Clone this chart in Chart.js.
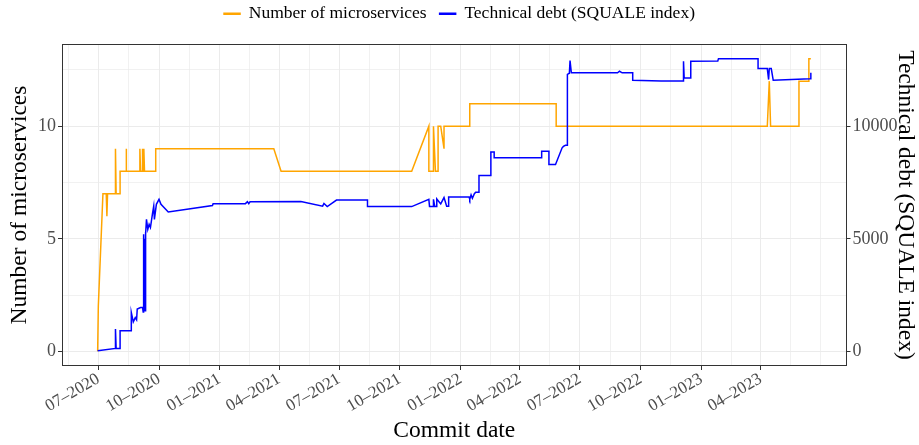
<!DOCTYPE html>
<html>
<head>
<meta charset="utf-8">
<script src="https://cdn.jsdelivr.net/npm/chart.js@4/dist/chart.umd.min.js"></script>
<style>
  body { margin: 0; background: #fff; }
</style>
</head>
<body>
<canvas id="chart" width="919" height="445"></canvas>
<script>
// Number of microservices, one entry per commit
const msDates = [
  '2020-06-30', '2020-07-01', '2020-07-08', '2020-07-13', '2020-07-14', '2020-07-15',
  '2020-07-27', '2020-07-27', '2020-07-28', '2020-08-03', '2020-08-03', '2020-08-12',
  '2020-08-12', '2020-08-13', '2020-09-02', '2020-09-02', '2020-09-03', '2020-09-06',
  '2020-09-06', '2020-09-07', '2020-09-08', '2020-09-09', '2020-09-26', '2020-09-26',
  '2021-03-24', '2021-04-04', '2021-10-19', '2021-11-14', '2021-11-14', '2021-11-21',
  '2021-11-21', '2021-11-24', '2021-11-28', '2021-11-28', '2021-12-02', '2021-12-07',
  '2021-12-07', '2022-01-15', '2022-01-15', '2022-05-26', '2022-05-26', '2023-04-11',
  '2023-04-14', '2023-04-16', '2023-05-29', '2023-05-29', '2023-06-13', '2023-06-13',
  '2023-06-16'
];
const msCounts = [
  0, 2, 7, 7, 6, 7,
  7, 9, 7, 7, 8, 8,
  9, 8, 8, 9, 8, 8,
  9, 8, 9, 8, 8, 9,
  9, 8, 8, 10, 8, 8,
  10, 8, 8, 10, 10, 9,
  10, 10, 11, 11, 10, 10,
  12, 10, 10, 12, 12, 13,
  13
];

// Technical debt (SQUALE index), one entry per commit
const tdDates = [
  '2020-06-30', '2020-07-27', '2020-07-27', '2020-07-28', '2020-08-03', '2020-08-03',
  '2020-08-20', '2020-08-20', '2020-08-23', '2020-08-26', '2020-08-28', '2020-08-29',
  '2020-09-03', '2020-09-06', '2020-09-07', '2020-09-07', '2020-09-08', '2020-09-08',
  '2020-09-09', '2020-09-09', '2020-09-10', '2020-09-10', '2020-09-11', '2020-09-11',
  '2020-09-12', '2020-09-14', '2020-09-16', '2020-09-18', '2020-09-21', '2020-09-23',
  '2020-09-24', '2020-09-27', '2020-10-01', '2020-10-04', '2020-10-15', '2020-12-21',
  '2020-12-22', '2021-02-09', '2021-02-12', '2021-02-14', '2021-02-16', '2021-05-04',
  '2021-06-06', '2021-06-08', '2021-06-13', '2021-06-27', '2021-08-13', '2021-08-13',
  '2021-10-19', '2021-11-14', '2021-11-15', '2021-11-21', '2021-11-21', '2021-11-23',
  '2021-11-26', '2021-11-26', '2021-12-02', '2021-12-07', '2021-12-11', '2021-12-14',
  '2021-12-14', '2022-01-14', '2022-01-15', '2022-01-17', '2022-01-19', '2022-01-22',
  '2022-01-24', '2022-01-29', '2022-01-29', '2022-02-16', '2022-02-16', '2022-02-21',
  '2022-02-21', '2022-05-04', '2022-05-04', '2022-05-15', '2022-05-15', '2022-05-25',
  '2022-06-04', '2022-06-06', '2022-06-09', '2022-06-12', '2022-06-12', '2022-06-15',
  '2022-06-16', '2022-06-18', '2022-08-27', '2022-08-30', '2022-09-03', '2022-09-19',
  '2022-09-19', '2022-11-01', '2022-12-05', '2022-12-05', '2022-12-06', '2022-12-16',
  '2022-12-16', '2023-01-26', '2023-01-27', '2023-03-28', '2023-03-28', '2023-04-11',
  '2023-04-13', '2023-04-14', '2023-04-17', '2023-04-20', '2023-06-15', '2023-06-16'
];
const tdIndex = [
  30, 130, 990, 130, 130, 920,
  920, 1730, 1310, 1500, 1400, 1880,
  1950, 1950, 1750, 5100, 1750, 5200,
  1800, 5000, 1800, 5300, 1900, 5200,
  5860, 5420, 5640, 5500, 6090, 6450,
  5860, 6530, 6750, 6530, 6190, 6480,
  6560, 6560, 6650, 6560, 6640, 6650,
  6450, 6570, 6430, 6720, 6720, 6430,
  6430, 6750, 6430, 6430, 6750, 6430,
  6430, 6770, 6550, 6830, 6450, 6450,
  6850, 6850, 6750, 6950, 6800, 7000,
  7070, 7070, 7810, 7810, 8850, 8850,
  8600, 8600, 8890, 8890, 8300, 8300,
  9040, 9100, 9150, 9150, 12300, 12350,
  12910, 12370, 12370, 12440, 12370, 12370,
  12040, 12010, 12010, 12880, 12140, 12140,
  12880, 12900, 13000, 13000, 12560, 12560,
  12070, 12560, 12560, 12040, 12110, 12370
];

// axis breaks
const xTickDates = [
  '2020-07-01', '2020-10-01', '2021-01-01', '2021-04-01', '2021-07-01', '2021-10-01',
  '2022-01-01', '2022-04-01', '2022-07-01', '2022-10-01', '2023-01-01', '2023-04-01'
];
const xTickLabels = [
  '07–2020', '10–2020', '01–2021', '04–2021', '07–2021', '10–2021',
  '01–2022', '04–2022', '07–2022', '10–2022', '01–2023', '04–2023'
];
const leftTicks = [0, 5, 10];
const rightTicks = [0, 5000, 10000];
const secScale = 1000; // right axis = left axis * 1000

const orange = '#FFA500';
const blue = '#0000FF';
const tickGrey = '#4d4d4d';
const gridGrey = '#ebebeb';

Chart.defaults.font.family = 'Liberation Serif';

function toPoints(dates, values, scale) {
  return dates.map((d, i) => ({x: Date.parse(d), y: values[i] / scale}));
}

function addMonths(ms, n) {
  let d = new Date(ms);
  return Date.UTC(d.getUTCFullYear(), d.getUTCMonth() + n, 1);
}

// x range with ggplot style 5% expansion
let allX = msDates.concat(tdDates).map(d => Date.parse(d));
let xLo = Math.min(...allX), xHi = Math.max(...allX);
let xMin = xLo - (xHi - xLo) * 0.05;
let xMax = xHi + (xHi - xLo) * 0.05;

let allY = msCounts.concat(tdIndex.map(v => v / secScale));
let yLo = Math.min(...allY), yHi = Math.max(...allY);
let yMin = yLo - (yHi - yLo) * 0.05;
let yMax = yHi + (yHi - yLo) * 0.05;

// major + minor grid positions
let majorX = xTickDates.map(d => Date.parse(d));
let qs = [addMonths(majorX[0], -3)].concat(majorX, [addMonths(majorX[majorX.length - 1], 3), addMonths(majorX[majorX.length - 1], 6)]);
let gridX = [];
for (let i = 0; i < qs.length; i++) {
  gridX.push(qs[i]);
  if (i < qs.length - 1) gridX.push((qs[i] + qs[i + 1]) / 2);
}
gridX = gridX.filter(v => v >= xMin && v <= xMax);

let stepY = leftTicks[1] - leftTicks[0];
let gridY = [];
for (let v = leftTicks[0] - stepY; v <= yMax; v += stepY / 2) {
  if (v >= yMin) gridY.push(v);
}

const isMajorX = v => majorX.includes(v);
const isMajorY = v => leftTicks.includes(v);

// force the legend band height
const legendHeight = {
  id: 'legendHeight',
  beforeInit(chart) {
    const fit = chart.legend.fit;
    chart.legend.fit = function () {
      fit.bind(chart.legend)();
      this.height = 52;
    };
  }
};

// panel border like theme_bw
const panelBorder = {
  id: 'panelBorder',
  afterDatasetsDraw(chart) {
    const {ctx, chartArea} = chart;
    ctx.save();
    ctx.strokeStyle = '#333333';
    ctx.lineWidth = 1;
    ctx.strokeRect(Math.round(chartArea.left) + 0.5, Math.round(chartArea.top) + 0.5,
      Math.round(chartArea.width) - 1, Math.round(chartArea.height) - 1);
    ctx.restore();
  }
};

var ctx = document.getElementById('chart').getContext('2d');
var chart = new Chart(ctx, {
  type: 'line',
  data: {
    datasets: [
      {
        label: 'Number of microservices',
        data: toPoints(msDates, msCounts, 1),
        borderColor: orange,
        backgroundColor: orange,
        borderWidth: 1.5,
        pointRadius: 0,
        tension: 0,
        yAxisID: 'y',
        order: 2
      },
      {
        label: 'Technical debt (SQUALE index)',
        data: toPoints(tdDates, tdIndex, secScale),
        borderColor: blue,
        backgroundColor: blue,
        borderWidth: 1.5,
        pointRadius: 0,
        tension: 0,
        yAxisID: 'y',
        order: 1
      }
    ]
  },
  options: {
    responsive: false,
    animation: false,
    layout: { padding: { top: -8, left: 0, right: 0, bottom: 0 } },
    plugins: {
      legend: {
        position: 'top',
        labels: {
          boxWidth: 16,
          boxHeight: 1,
          padding: 13,
          color: '#000',
          font: { size: 17.5 },
          sort: (a, b) => a.datasetIndex - b.datasetIndex
        }
      },
      tooltip: { enabled: false }
    },
    scales: {
      x: {
        type: 'linear',
        min: xMin,
        max: xMax,
        afterBuildTicks: s => { s.ticks = gridX.map(v => ({value: v})); },
        afterFit: s => { s.height = 79; },
        border: { display: false },
        grid: {
          color: gridGrey,
          lineWidth: c => (c.tick && isMajorX(c.tick.value)) ? 1 : 0.7,
          tickLength: 4,
          tickColor: c => (c.tick && isMajorX(c.tick.value)) ? '#333333' : 'rgba(0,0,0,0)'
        },
        ticks: {
          autoSkip: false,
          minRotation: 30,
          maxRotation: 30,
          padding: -1,
          color: tickGrey,
          font: { size: 17 },
          callback: v => {
            let i = majorX.indexOf(v);
            return i >= 0 ? xTickLabels[i] : '';
          }
        },
        title: {
          display: true,
          text: 'Commit date',
          color: '#000',
          font: { size: 23.5 },
          padding: { top: 0, bottom: 0 }
        }
      },
      y: {
        position: 'left',
        min: yMin,
        max: yMax,
        afterBuildTicks: s => { s.ticks = gridY.map(v => ({value: v})); },
        afterFit: s => { s.width = 62; },
        border: { display: false },
        grid: {
          color: gridGrey,
          lineWidth: c => (c.tick && isMajorY(c.tick.value)) ? 1 : 0.7,
          tickLength: 4,
          tickColor: c => (c.tick && isMajorY(c.tick.value)) ? '#333333' : 'rgba(0,0,0,0)'
        },
        ticks: {
          padding: 2,
          color: tickGrey,
          font: { size: 18 },
          callback: v => isMajorY(v) ? String(v) : ''
        },
        title: {
          display: true,
          text: 'Number of microservices',
          color: '#000',
          font: { size: 23.5 },
          padding: { top: 6, bottom: 0 }
        }
      },
      y1: {
        position: 'right',
        min: yMin * secScale,
        max: yMax * secScale,
        afterBuildTicks: s => { s.ticks = rightTicks.map(v => ({value: v})); },
        afterFit: s => { s.width = 72.5; },
        border: { display: false },
        grid: {
          drawOnChartArea: false,
          tickLength: 4,
          tickColor: '#333333'
        },
        ticks: {
          padding: 2,
          color: tickGrey,
          font: { size: 18 },
          callback: v => String(v)
        },
        title: {
          display: true,
          text: 'Technical debt (SQUALE index)',
          color: '#000',
          font: { size: 23.5 },
          padding: { top: 0, bottom: 0 }
        }
      }
    }
  },
  plugins: [legendHeight, panelBorder]
});
</script>
</body>
</html>
